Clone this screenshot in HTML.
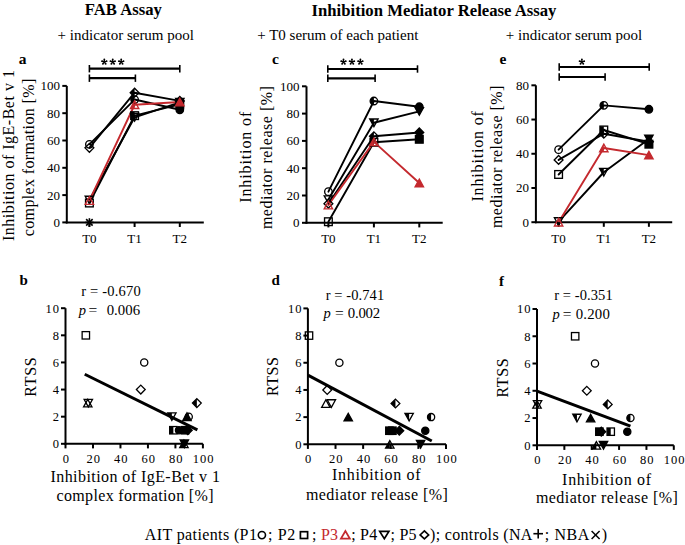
<!DOCTYPE html>
<html><head><meta charset="utf-8"><style>html,body{margin:0;padding:0;background:#fff;width:685px;height:545px;overflow:hidden}svg{display:block}</style></head>
<body>
<svg width="685" height="545" viewBox="0 0 685 545">
<style>text{font-family:'Liberation Serif', serif;}</style>
<defs><clipPath id="lh" clipPathUnits="objectBoundingBox"><rect x="0" y="0" width="0.5" height="1"/></clipPath></defs>
<rect width="685" height="545" fill="#fff"/>
<text x="123.40" y="15.00" font-size="16.7" text-anchor="middle" font-weight="bold" >FAB Assay</text>
<text x="434.00" y="16.00" font-size="16.7" text-anchor="middle" font-weight="bold" >Inhibition Mediator Release Assay</text>
<text x="125.80" y="40.00" font-size="15" text-anchor="middle" >+ indicator serum pool</text>
<text x="337.80" y="40.00" font-size="15" text-anchor="middle" >+ T0 serum of each patient</text>
<text x="574.00" y="40.00" font-size="15" text-anchor="middle" >+ indicator serum pool</text>
<line x1="66.80" y1="85.90" x2="66.80" y2="223.40" stroke="#000" stroke-width="2" stroke-linecap="butt"/>
<line x1="65.80" y1="222.40" x2="203.80" y2="222.40" stroke="#000" stroke-width="2" stroke-linecap="butt"/>
<line x1="62.30" y1="222.40" x2="66.80" y2="222.40" stroke="#000" stroke-width="2" stroke-linecap="butt"/>
<text x="59.90" y="226.80" font-size="13" text-anchor="end" >0</text>
<line x1="62.30" y1="195.10" x2="66.80" y2="195.10" stroke="#000" stroke-width="2" stroke-linecap="butt"/>
<text x="59.90" y="199.50" font-size="13" text-anchor="end" >20</text>
<line x1="62.30" y1="167.80" x2="66.80" y2="167.80" stroke="#000" stroke-width="2" stroke-linecap="butt"/>
<text x="59.90" y="172.20" font-size="13" text-anchor="end" >40</text>
<line x1="62.30" y1="140.50" x2="66.80" y2="140.50" stroke="#000" stroke-width="2" stroke-linecap="butt"/>
<text x="59.90" y="144.90" font-size="13" text-anchor="end" >60</text>
<line x1="62.30" y1="113.20" x2="66.80" y2="113.20" stroke="#000" stroke-width="2" stroke-linecap="butt"/>
<text x="59.90" y="117.60" font-size="13" text-anchor="end" >80</text>
<line x1="62.30" y1="85.90" x2="66.80" y2="85.90" stroke="#000" stroke-width="2" stroke-linecap="butt"/>
<text x="59.90" y="90.30" font-size="13" text-anchor="end" >100</text>
<line x1="89.40" y1="222.40" x2="89.40" y2="227.00" stroke="#000" stroke-width="2" stroke-linecap="butt"/>
<text x="89.40" y="243.40" font-size="13" text-anchor="middle" >T0</text>
<line x1="134.60" y1="222.40" x2="134.60" y2="227.00" stroke="#000" stroke-width="2" stroke-linecap="butt"/>
<text x="134.60" y="243.40" font-size="13" text-anchor="middle" >T1</text>
<line x1="179.80" y1="222.40" x2="179.80" y2="227.00" stroke="#000" stroke-width="2" stroke-linecap="butt"/>
<text x="179.80" y="243.40" font-size="13" text-anchor="middle" >T2</text>
<text x="18.80" y="63.80" font-size="15.5" text-anchor="start" font-weight="bold" >a</text>
<text x="13.80" y="155.60" font-size="16" text-anchor="middle" textLength="171" lengthAdjust="spacing" transform="rotate(-90 13.80 155.60)" >Inhibition of IgE-Bet v 1</text>
<text x="34.00" y="157.50" font-size="16" text-anchor="middle" textLength="157.5" lengthAdjust="spacing" transform="rotate(-90 34.00 157.50)" >complex formation [%]</text>
<line x1="89.40" y1="68.70" x2="179.80" y2="68.70" stroke="#000" stroke-width="2.2" stroke-linecap="butt"/>
<line x1="89.40" y1="65.00" x2="89.40" y2="72.40" stroke="#000" stroke-width="1.6" stroke-linecap="butt"/>
<line x1="179.80" y1="65.00" x2="179.80" y2="72.40" stroke="#000" stroke-width="1.6" stroke-linecap="butt"/>
<line x1="89.40" y1="78.20" x2="135.40" y2="78.20" stroke="#000" stroke-width="2.2" stroke-linecap="butt"/>
<line x1="89.40" y1="74.50" x2="89.40" y2="81.90" stroke="#000" stroke-width="1.6" stroke-linecap="butt"/>
<line x1="135.40" y1="74.50" x2="135.40" y2="81.90" stroke="#000" stroke-width="1.6" stroke-linecap="butt"/>
<path d="M104.65,61.90 L105.25,59.50 L103.35,59.50 L103.95,61.90Z M105.25,59.50 a0.95,0.95 0 1,0 -1.9,0 a0.95,0.95 0 1,0 1.9,0Z M104.41,62.23 L106.88,62.06 L106.29,60.25 L104.19,61.57Z M107.53,61.16 a0.95,0.95 0 1,0 -1.9,0 a0.95,0.95 0 1,0 1.9,0Z M104.02,62.11 L104.94,64.40 L106.48,63.28 L104.58,61.69Z M106.66,63.84 a0.95,0.95 0 1,0 -1.9,0 a0.95,0.95 0 1,0 1.9,0Z M104.02,61.69 L102.12,63.28 L103.66,64.40 L104.58,62.11Z M103.84,63.84 a0.95,0.95 0 1,0 -1.9,0 a0.95,0.95 0 1,0 1.9,0Z M104.41,61.57 L102.31,60.25 L101.72,62.06 L104.19,62.23Z M102.97,61.16 a0.95,0.95 0 1,0 -1.9,0 a0.95,0.95 0 1,0 1.9,0Z" fill="#000"/>
<path d="M113.10,61.90 L113.70,59.50 L111.80,59.50 L112.40,61.90Z M113.70,59.50 a0.95,0.95 0 1,0 -1.9,0 a0.95,0.95 0 1,0 1.9,0Z M112.86,62.23 L115.33,62.06 L114.74,60.25 L112.64,61.57Z M115.98,61.16 a0.95,0.95 0 1,0 -1.9,0 a0.95,0.95 0 1,0 1.9,0Z M112.47,62.11 L113.39,64.40 L114.93,63.28 L113.03,61.69Z M115.11,63.84 a0.95,0.95 0 1,0 -1.9,0 a0.95,0.95 0 1,0 1.9,0Z M112.47,61.69 L110.57,63.28 L112.11,64.40 L113.03,62.11Z M112.29,63.84 a0.95,0.95 0 1,0 -1.9,0 a0.95,0.95 0 1,0 1.9,0Z M112.86,61.57 L110.76,60.25 L110.17,62.06 L112.64,62.23Z M111.42,61.16 a0.95,0.95 0 1,0 -1.9,0 a0.95,0.95 0 1,0 1.9,0Z" fill="#000"/>
<path d="M121.55,61.90 L122.15,59.50 L120.25,59.50 L120.85,61.90Z M122.15,59.50 a0.95,0.95 0 1,0 -1.9,0 a0.95,0.95 0 1,0 1.9,0Z M121.31,62.23 L123.78,62.06 L123.19,60.25 L121.09,61.57Z M124.43,61.16 a0.95,0.95 0 1,0 -1.9,0 a0.95,0.95 0 1,0 1.9,0Z M120.92,62.11 L121.84,64.40 L123.38,63.28 L121.48,61.69Z M123.56,63.84 a0.95,0.95 0 1,0 -1.9,0 a0.95,0.95 0 1,0 1.9,0Z M120.92,61.69 L119.02,63.28 L120.56,64.40 L121.48,62.11Z M120.74,63.84 a0.95,0.95 0 1,0 -1.9,0 a0.95,0.95 0 1,0 1.9,0Z M121.31,61.57 L119.21,60.25 L118.62,62.06 L121.09,62.23Z M119.87,61.16 a0.95,0.95 0 1,0 -1.9,0 a0.95,0.95 0 1,0 1.9,0Z" fill="#000"/>
<polyline points="89.40,144.32 134.60,99.55 179.80,109.79" fill="none" stroke="#000" stroke-width="1.9" stroke-linejoin="round" stroke-linecap="round"/>
<polyline points="89.40,203.02 134.60,115.66 179.80,104.33" fill="none" stroke="#000" stroke-width="1.9" stroke-linejoin="round" stroke-linecap="round"/>
<polyline points="89.40,200.01 134.60,117.30 179.80,102.28" fill="none" stroke="#000" stroke-width="1.9" stroke-linejoin="round" stroke-linecap="round"/>
<polyline points="89.40,147.87 134.60,92.72 179.80,100.92" fill="none" stroke="#000" stroke-width="1.9" stroke-linejoin="round" stroke-linecap="round"/>
<polyline points="89.40,200.56 134.60,104.74 179.80,102.01" fill="none" stroke="#c4292e" stroke-width="1.9" stroke-linejoin="round" stroke-linecap="round"/>
<circle cx="89.40" cy="144.32" r="3.75" fill="none" stroke="#000" stroke-width="1.35" stroke-linejoin="miter"/>
<circle cx="134.60" cy="99.55" r="3.75" fill="none" stroke="#000" stroke-width="1.35" stroke-linejoin="miter"/>
<circle cx="134.60" cy="99.55" r="3.75" fill="#000" stroke="none" clip-path="url(#lh)"/>
<circle cx="179.80" cy="109.79" r="3.75" fill="#000" stroke="#000" stroke-width="1.35" stroke-linejoin="miter"/>
<rect x="85.55" y="199.17" width="7.70" height="7.70" fill="none" stroke="#000" stroke-width="1.35" stroke-linejoin="miter"/>
<rect x="130.75" y="111.81" width="7.70" height="7.70" fill="none" stroke="#000" stroke-width="1.35" stroke-linejoin="miter"/>
<rect x="130.75" y="111.81" width="7.70" height="7.70" fill="#000" stroke="none" clip-path="url(#lh)"/>
<rect x="175.95" y="100.48" width="7.70" height="7.70" fill="#000" stroke="#000" stroke-width="1.35" stroke-linejoin="miter"/>
<polygon points="89.40,203.81 93.60,196.21 85.20,196.21" fill="none" stroke="#000" stroke-width="1.35" stroke-linejoin="miter"/>
<polygon points="134.60,121.09 138.80,113.50 130.40,113.50" fill="none" stroke="#000" stroke-width="1.35" stroke-linejoin="miter"/>
<polygon points="134.60,121.09 138.80,113.50 130.40,113.50" fill="#000" stroke="none" clip-path="url(#lh)"/>
<polygon points="179.80,106.08 184.00,98.48 175.60,98.48" fill="#000" stroke="#000" stroke-width="1.35" stroke-linejoin="miter"/>
<polygon points="89.40,143.47 93.80,147.87 89.40,152.27 85.00,147.87" fill="none" stroke="#000" stroke-width="1.35" stroke-linejoin="miter"/>
<polygon points="134.60,88.32 139.00,92.72 134.60,97.12 130.20,92.72" fill="none" stroke="#000" stroke-width="1.35" stroke-linejoin="miter"/>
<polygon points="134.60,88.32 139.00,92.72 134.60,97.12 130.20,92.72" fill="#000" stroke="none" clip-path="url(#lh)"/>
<polygon points="179.80,96.52 184.20,100.92 179.80,105.32 175.40,100.92" fill="#000" stroke="#000" stroke-width="1.35" stroke-linejoin="miter"/>
<polygon points="89.40,196.76 93.60,204.36 85.20,204.36" fill="none" stroke="#c4292e" stroke-width="1.35" stroke-linejoin="miter"/>
<polygon points="134.60,100.94 138.80,108.54 130.40,108.54" fill="none" stroke="#c4292e" stroke-width="1.35" stroke-linejoin="miter"/>
<polygon points="134.60,100.94 138.80,108.54 130.40,108.54" fill="#c4292e" stroke="none" clip-path="url(#lh)"/>
<polygon points="179.80,98.21 184.00,105.81 175.60,105.81" fill="#c4292e" stroke="#c4292e" stroke-width="1.35" stroke-linejoin="miter"/>
<line x1="85.20" y1="222.40" x2="93.60" y2="222.40" stroke="#000" stroke-width="1.6" stroke-linecap="butt"/>
<line x1="89.40" y1="218.20" x2="89.40" y2="226.60" stroke="#000" stroke-width="1.6" stroke-linecap="butt"/>
<line x1="86.15" y1="219.15" x2="92.65" y2="225.65" stroke="#000" stroke-width="1.6" stroke-linecap="butt"/>
<line x1="86.15" y1="225.65" x2="92.65" y2="219.15" stroke="#000" stroke-width="1.6" stroke-linecap="butt"/>
<line x1="306.50" y1="86.30" x2="306.50" y2="223.80" stroke="#000" stroke-width="2" stroke-linecap="butt"/>
<line x1="305.50" y1="222.80" x2="442.70" y2="222.80" stroke="#000" stroke-width="2" stroke-linecap="butt"/>
<line x1="302.00" y1="222.80" x2="306.50" y2="222.80" stroke="#000" stroke-width="2" stroke-linecap="butt"/>
<text x="299.60" y="227.20" font-size="13" text-anchor="end" >0</text>
<line x1="302.00" y1="195.50" x2="306.50" y2="195.50" stroke="#000" stroke-width="2" stroke-linecap="butt"/>
<text x="299.60" y="199.90" font-size="13" text-anchor="end" >20</text>
<line x1="302.00" y1="168.20" x2="306.50" y2="168.20" stroke="#000" stroke-width="2" stroke-linecap="butt"/>
<text x="299.60" y="172.60" font-size="13" text-anchor="end" >40</text>
<line x1="302.00" y1="140.90" x2="306.50" y2="140.90" stroke="#000" stroke-width="2" stroke-linecap="butt"/>
<text x="299.60" y="145.30" font-size="13" text-anchor="end" >60</text>
<line x1="302.00" y1="113.60" x2="306.50" y2="113.60" stroke="#000" stroke-width="2" stroke-linecap="butt"/>
<text x="299.60" y="118.00" font-size="13" text-anchor="end" >80</text>
<line x1="302.00" y1="86.30" x2="306.50" y2="86.30" stroke="#000" stroke-width="2" stroke-linecap="butt"/>
<text x="299.60" y="90.70" font-size="13" text-anchor="end" >100</text>
<line x1="328.40" y1="222.80" x2="328.40" y2="227.40" stroke="#000" stroke-width="2" stroke-linecap="butt"/>
<text x="328.40" y="243.40" font-size="13" text-anchor="middle" >T0</text>
<line x1="373.90" y1="222.80" x2="373.90" y2="227.40" stroke="#000" stroke-width="2" stroke-linecap="butt"/>
<text x="373.90" y="243.40" font-size="13" text-anchor="middle" >T1</text>
<line x1="419.30" y1="222.80" x2="419.30" y2="227.40" stroke="#000" stroke-width="2" stroke-linecap="butt"/>
<text x="419.30" y="243.40" font-size="13" text-anchor="middle" >T2</text>
<text x="272.00" y="63.70" font-size="15.5" text-anchor="start" font-weight="bold" >c</text>
<text x="251.30" y="157.20" font-size="16" text-anchor="middle" textLength="91" lengthAdjust="spacing" transform="rotate(-90 251.30 157.20)" >Inhibition of</text>
<text x="271.60" y="157.60" font-size="16" text-anchor="middle" textLength="143" lengthAdjust="spacing" transform="rotate(-90 271.60 157.60)" >mediator release [%]</text>
<line x1="327.80" y1="69.00" x2="417.50" y2="69.00" stroke="#000" stroke-width="2.2" stroke-linecap="butt"/>
<line x1="327.80" y1="65.30" x2="327.80" y2="72.70" stroke="#000" stroke-width="1.6" stroke-linecap="butt"/>
<line x1="417.50" y1="65.30" x2="417.50" y2="72.70" stroke="#000" stroke-width="1.6" stroke-linecap="butt"/>
<line x1="327.80" y1="78.30" x2="375.10" y2="78.30" stroke="#000" stroke-width="2.2" stroke-linecap="butt"/>
<line x1="327.80" y1="74.60" x2="327.80" y2="82.00" stroke="#000" stroke-width="1.6" stroke-linecap="butt"/>
<line x1="375.10" y1="74.60" x2="375.10" y2="82.00" stroke="#000" stroke-width="1.6" stroke-linecap="butt"/>
<path d="M343.85,61.90 L344.45,59.50 L342.55,59.50 L343.15,61.90Z M344.45,59.50 a0.95,0.95 0 1,0 -1.9,0 a0.95,0.95 0 1,0 1.9,0Z M343.61,62.23 L346.08,62.06 L345.49,60.25 L343.39,61.57Z M346.73,61.16 a0.95,0.95 0 1,0 -1.9,0 a0.95,0.95 0 1,0 1.9,0Z M343.22,62.11 L344.14,64.40 L345.68,63.28 L343.78,61.69Z M345.86,63.84 a0.95,0.95 0 1,0 -1.9,0 a0.95,0.95 0 1,0 1.9,0Z M343.22,61.69 L341.32,63.28 L342.86,64.40 L343.78,62.11Z M343.04,63.84 a0.95,0.95 0 1,0 -1.9,0 a0.95,0.95 0 1,0 1.9,0Z M343.61,61.57 L341.51,60.25 L340.92,62.06 L343.39,62.23Z M342.17,61.16 a0.95,0.95 0 1,0 -1.9,0 a0.95,0.95 0 1,0 1.9,0Z" fill="#000"/>
<path d="M352.30,61.90 L352.90,59.50 L351.00,59.50 L351.60,61.90Z M352.90,59.50 a0.95,0.95 0 1,0 -1.9,0 a0.95,0.95 0 1,0 1.9,0Z M352.06,62.23 L354.53,62.06 L353.94,60.25 L351.84,61.57Z M355.18,61.16 a0.95,0.95 0 1,0 -1.9,0 a0.95,0.95 0 1,0 1.9,0Z M351.67,62.11 L352.59,64.40 L354.13,63.28 L352.23,61.69Z M354.31,63.84 a0.95,0.95 0 1,0 -1.9,0 a0.95,0.95 0 1,0 1.9,0Z M351.67,61.69 L349.77,63.28 L351.31,64.40 L352.23,62.11Z M351.49,63.84 a0.95,0.95 0 1,0 -1.9,0 a0.95,0.95 0 1,0 1.9,0Z M352.06,61.57 L349.96,60.25 L349.37,62.06 L351.84,62.23Z M350.62,61.16 a0.95,0.95 0 1,0 -1.9,0 a0.95,0.95 0 1,0 1.9,0Z" fill="#000"/>
<path d="M360.75,61.90 L361.35,59.50 L359.45,59.50 L360.05,61.90Z M361.35,59.50 a0.95,0.95 0 1,0 -1.9,0 a0.95,0.95 0 1,0 1.9,0Z M360.51,62.23 L362.98,62.06 L362.39,60.25 L360.29,61.57Z M363.63,61.16 a0.95,0.95 0 1,0 -1.9,0 a0.95,0.95 0 1,0 1.9,0Z M360.12,62.11 L361.04,64.40 L362.58,63.28 L360.68,61.69Z M362.76,63.84 a0.95,0.95 0 1,0 -1.9,0 a0.95,0.95 0 1,0 1.9,0Z M360.12,61.69 L358.22,63.28 L359.76,64.40 L360.68,62.11Z M359.94,63.84 a0.95,0.95 0 1,0 -1.9,0 a0.95,0.95 0 1,0 1.9,0Z M360.51,61.57 L358.41,60.25 L357.82,62.06 L360.29,62.23Z M359.07,61.16 a0.95,0.95 0 1,0 -1.9,0 a0.95,0.95 0 1,0 1.9,0Z" fill="#000"/>
<polyline points="328.40,191.68 373.90,101.04 419.30,106.78" fill="none" stroke="#000" stroke-width="1.9" stroke-linejoin="round" stroke-linecap="round"/>
<polyline points="328.40,221.71 373.90,142.27 419.30,139.26" fill="none" stroke="#000" stroke-width="1.9" stroke-linejoin="round" stroke-linecap="round"/>
<polyline points="328.40,199.60 373.90,122.75 419.30,111.42" fill="none" stroke="#000" stroke-width="1.9" stroke-linejoin="round" stroke-linecap="round"/>
<polyline points="328.40,203.69 373.90,136.26 419.30,132.44" fill="none" stroke="#000" stroke-width="1.9" stroke-linejoin="round" stroke-linecap="round"/>
<polyline points="328.40,205.06 373.90,141.86 419.30,182.94" fill="none" stroke="#c4292e" stroke-width="1.9" stroke-linejoin="round" stroke-linecap="round"/>
<circle cx="328.40" cy="191.68" r="3.75" fill="none" stroke="#000" stroke-width="1.35" stroke-linejoin="miter"/>
<circle cx="373.90" cy="101.04" r="3.75" fill="none" stroke="#000" stroke-width="1.35" stroke-linejoin="miter"/>
<circle cx="373.90" cy="101.04" r="3.75" fill="#000" stroke="none" clip-path="url(#lh)"/>
<circle cx="419.30" cy="106.78" r="3.75" fill="#000" stroke="#000" stroke-width="1.35" stroke-linejoin="miter"/>
<rect x="324.55" y="217.86" width="7.70" height="7.70" fill="none" stroke="#000" stroke-width="1.35" stroke-linejoin="miter"/>
<rect x="370.05" y="138.42" width="7.70" height="7.70" fill="none" stroke="#000" stroke-width="1.35" stroke-linejoin="miter"/>
<rect x="370.05" y="138.42" width="7.70" height="7.70" fill="#000" stroke="none" clip-path="url(#lh)"/>
<rect x="415.45" y="135.41" width="7.70" height="7.70" fill="#000" stroke="#000" stroke-width="1.35" stroke-linejoin="miter"/>
<polygon points="328.40,203.40 332.60,195.80 324.20,195.80" fill="none" stroke="#000" stroke-width="1.35" stroke-linejoin="miter"/>
<polygon points="373.90,126.55 378.10,118.95 369.70,118.95" fill="none" stroke="#000" stroke-width="1.35" stroke-linejoin="miter"/>
<polygon points="373.90,126.55 378.10,118.95 369.70,118.95" fill="#000" stroke="none" clip-path="url(#lh)"/>
<polygon points="419.30,115.22 423.50,107.62 415.10,107.62" fill="#000" stroke="#000" stroke-width="1.35" stroke-linejoin="miter"/>
<polygon points="328.40,199.29 332.80,203.69 328.40,208.09 324.00,203.69" fill="none" stroke="#000" stroke-width="1.35" stroke-linejoin="miter"/>
<polygon points="373.90,131.86 378.30,136.26 373.90,140.66 369.50,136.26" fill="none" stroke="#000" stroke-width="1.35" stroke-linejoin="miter"/>
<polygon points="373.90,131.86 378.30,136.26 373.90,140.66 369.50,136.26" fill="#000" stroke="none" clip-path="url(#lh)"/>
<polygon points="419.30,128.04 423.70,132.44 419.30,136.84 414.90,132.44" fill="#000" stroke="#000" stroke-width="1.35" stroke-linejoin="miter"/>
<polygon points="328.40,201.25 332.60,208.86 324.20,208.86" fill="none" stroke="#c4292e" stroke-width="1.35" stroke-linejoin="miter"/>
<polygon points="373.90,138.06 378.10,145.66 369.70,145.66" fill="none" stroke="#c4292e" stroke-width="1.35" stroke-linejoin="miter"/>
<polygon points="373.90,138.06 378.10,145.66 369.70,145.66" fill="#c4292e" stroke="none" clip-path="url(#lh)"/>
<polygon points="419.30,179.14 423.50,186.74 415.10,186.74" fill="#c4292e" stroke="#c4292e" stroke-width="1.35" stroke-linejoin="miter"/>
<line x1="535.90" y1="85.32" x2="535.90" y2="223.20" stroke="#000" stroke-width="2" stroke-linecap="butt"/>
<line x1="534.90" y1="222.20" x2="672.20" y2="222.20" stroke="#000" stroke-width="2" stroke-linecap="butt"/>
<line x1="531.40" y1="222.20" x2="535.90" y2="222.20" stroke="#000" stroke-width="2" stroke-linecap="butt"/>
<text x="529.00" y="226.60" font-size="13" text-anchor="end" >0</text>
<line x1="531.40" y1="187.98" x2="535.90" y2="187.98" stroke="#000" stroke-width="2" stroke-linecap="butt"/>
<text x="529.00" y="192.38" font-size="13" text-anchor="end" >20</text>
<line x1="531.40" y1="153.76" x2="535.90" y2="153.76" stroke="#000" stroke-width="2" stroke-linecap="butt"/>
<text x="529.00" y="158.16" font-size="13" text-anchor="end" >40</text>
<line x1="531.40" y1="119.54" x2="535.90" y2="119.54" stroke="#000" stroke-width="2" stroke-linecap="butt"/>
<text x="529.00" y="123.94" font-size="13" text-anchor="end" >60</text>
<line x1="531.40" y1="85.32" x2="535.90" y2="85.32" stroke="#000" stroke-width="2" stroke-linecap="butt"/>
<text x="529.00" y="89.72" font-size="13" text-anchor="end" >80</text>
<line x1="558.60" y1="222.20" x2="558.60" y2="226.80" stroke="#000" stroke-width="2" stroke-linecap="butt"/>
<text x="558.60" y="243.40" font-size="13" text-anchor="middle" >T0</text>
<line x1="603.80" y1="222.20" x2="603.80" y2="226.80" stroke="#000" stroke-width="2" stroke-linecap="butt"/>
<text x="603.80" y="243.40" font-size="13" text-anchor="middle" >T1</text>
<line x1="648.90" y1="222.20" x2="648.90" y2="226.80" stroke="#000" stroke-width="2" stroke-linecap="butt"/>
<text x="648.90" y="243.40" font-size="13" text-anchor="middle" >T2</text>
<text x="499.50" y="63.70" font-size="15.5" text-anchor="start" font-weight="bold" >e</text>
<text x="482.60" y="156.30" font-size="16" text-anchor="middle" textLength="90.5" lengthAdjust="spacing" transform="rotate(-90 482.60 156.30)" >Inhibition of</text>
<text x="502.50" y="156.80" font-size="16" text-anchor="middle" textLength="142.5" lengthAdjust="spacing" transform="rotate(-90 502.50 156.80)" >mediator release [%]</text>
<line x1="559.20" y1="67.00" x2="649.20" y2="67.00" stroke="#000" stroke-width="2.2" stroke-linecap="butt"/>
<line x1="559.20" y1="63.30" x2="559.20" y2="70.70" stroke="#000" stroke-width="1.6" stroke-linecap="butt"/>
<line x1="649.20" y1="63.30" x2="649.20" y2="70.70" stroke="#000" stroke-width="1.6" stroke-linecap="butt"/>
<line x1="559.20" y1="77.00" x2="605.10" y2="77.00" stroke="#000" stroke-width="2.2" stroke-linecap="butt"/>
<line x1="559.20" y1="73.30" x2="559.20" y2="80.70" stroke="#000" stroke-width="1.6" stroke-linecap="butt"/>
<line x1="605.10" y1="73.30" x2="605.10" y2="80.70" stroke="#000" stroke-width="1.6" stroke-linecap="butt"/>
<path d="M582.25,61.90 L582.85,59.50 L580.95,59.50 L581.55,61.90Z M582.85,59.50 a0.95,0.95 0 1,0 -1.9,0 a0.95,0.95 0 1,0 1.9,0Z M582.01,62.23 L584.48,62.06 L583.89,60.25 L581.79,61.57Z M585.13,61.16 a0.95,0.95 0 1,0 -1.9,0 a0.95,0.95 0 1,0 1.9,0Z M581.62,62.11 L582.54,64.40 L584.08,63.28 L582.18,61.69Z M584.26,63.84 a0.95,0.95 0 1,0 -1.9,0 a0.95,0.95 0 1,0 1.9,0Z M581.62,61.69 L579.72,63.28 L581.26,64.40 L582.18,62.11Z M581.44,63.84 a0.95,0.95 0 1,0 -1.9,0 a0.95,0.95 0 1,0 1.9,0Z M582.01,61.57 L579.91,60.25 L579.32,62.06 L581.79,62.23Z M580.57,61.16 a0.95,0.95 0 1,0 -1.9,0 a0.95,0.95 0 1,0 1.9,0Z" fill="#000"/>
<polyline points="558.60,149.65 603.80,105.34 648.90,109.27" fill="none" stroke="#000" stroke-width="1.9" stroke-linejoin="round" stroke-linecap="round"/>
<polyline points="558.60,174.46 603.80,129.98 648.90,144.18" fill="none" stroke="#000" stroke-width="1.9" stroke-linejoin="round" stroke-linecap="round"/>
<polyline points="558.60,221.52 603.80,172.24 648.90,139.05" fill="none" stroke="#000" stroke-width="1.9" stroke-linejoin="round" stroke-linecap="round"/>
<polyline points="558.60,159.92 603.80,133.74 648.90,141.78" fill="none" stroke="#000" stroke-width="1.9" stroke-linejoin="round" stroke-linecap="round"/>
<polyline points="558.60,222.20 603.80,147.94 648.90,155.13" fill="none" stroke="#c4292e" stroke-width="1.9" stroke-linejoin="round" stroke-linecap="round"/>
<circle cx="558.60" cy="149.65" r="3.75" fill="none" stroke="#000" stroke-width="1.35" stroke-linejoin="miter"/>
<circle cx="603.80" cy="105.34" r="3.75" fill="none" stroke="#000" stroke-width="1.35" stroke-linejoin="miter"/>
<circle cx="603.80" cy="105.34" r="3.75" fill="#000" stroke="none" clip-path="url(#lh)"/>
<circle cx="648.90" cy="109.27" r="3.75" fill="#000" stroke="#000" stroke-width="1.35" stroke-linejoin="miter"/>
<rect x="554.75" y="170.61" width="7.70" height="7.70" fill="none" stroke="#000" stroke-width="1.35" stroke-linejoin="miter"/>
<rect x="599.95" y="126.13" width="7.70" height="7.70" fill="none" stroke="#000" stroke-width="1.35" stroke-linejoin="miter"/>
<rect x="599.95" y="126.13" width="7.70" height="7.70" fill="#000" stroke="none" clip-path="url(#lh)"/>
<rect x="645.05" y="140.33" width="7.70" height="7.70" fill="#000" stroke="#000" stroke-width="1.35" stroke-linejoin="miter"/>
<polygon points="558.60,225.32 562.80,217.72 554.40,217.72" fill="none" stroke="#000" stroke-width="1.35" stroke-linejoin="miter"/>
<polygon points="603.80,176.04 608.00,168.44 599.60,168.44" fill="none" stroke="#000" stroke-width="1.35" stroke-linejoin="miter"/>
<polygon points="603.80,176.04 608.00,168.44 599.60,168.44" fill="#000" stroke="none" clip-path="url(#lh)"/>
<polygon points="648.90,142.85 653.10,135.25 644.70,135.25" fill="#000" stroke="#000" stroke-width="1.35" stroke-linejoin="miter"/>
<polygon points="558.60,155.52 563.00,159.92 558.60,164.32 554.20,159.92" fill="none" stroke="#000" stroke-width="1.35" stroke-linejoin="miter"/>
<polygon points="603.80,129.34 608.20,133.74 603.80,138.14 599.40,133.74" fill="none" stroke="#000" stroke-width="1.35" stroke-linejoin="miter"/>
<polygon points="603.80,129.34 608.20,133.74 603.80,138.14 599.40,133.74" fill="#000" stroke="none" clip-path="url(#lh)"/>
<polygon points="648.90,137.38 653.30,141.78 648.90,146.18 644.50,141.78" fill="#000" stroke="#000" stroke-width="1.35" stroke-linejoin="miter"/>
<polygon points="558.60,218.40 562.80,226.00 554.40,226.00" fill="none" stroke="#c4292e" stroke-width="1.35" stroke-linejoin="miter"/>
<polygon points="603.80,144.14 608.00,151.74 599.60,151.74" fill="none" stroke="#c4292e" stroke-width="1.35" stroke-linejoin="miter"/>
<polygon points="603.80,144.14 608.00,151.74 599.60,151.74" fill="#c4292e" stroke="none" clip-path="url(#lh)"/>
<polygon points="648.90,151.33 653.10,158.93 644.70,158.93" fill="#c4292e" stroke="#c4292e" stroke-width="1.35" stroke-linejoin="miter"/>
<circle cx="558.5" cy="223.6" r="1.6" fill="#000"/>
<line x1="65.50" y1="308.20" x2="65.50" y2="444.80" stroke="#000" stroke-width="2" stroke-linecap="butt"/>
<line x1="64.50" y1="443.80" x2="202.90" y2="443.80" stroke="#000" stroke-width="2" stroke-linecap="butt"/>
<line x1="61.00" y1="443.80" x2="65.50" y2="443.80" stroke="#000" stroke-width="2" stroke-linecap="butt"/>
<text x="60.10" y="448.10" font-size="12.5" text-anchor="end" letter-spacing="1.0">0</text>
<line x1="61.00" y1="416.68" x2="65.50" y2="416.68" stroke="#000" stroke-width="2" stroke-linecap="butt"/>
<text x="60.10" y="420.98" font-size="12.5" text-anchor="end" letter-spacing="1.0">2</text>
<line x1="61.00" y1="389.56" x2="65.50" y2="389.56" stroke="#000" stroke-width="2" stroke-linecap="butt"/>
<text x="60.10" y="393.86" font-size="12.5" text-anchor="end" letter-spacing="1.0">4</text>
<line x1="61.00" y1="362.44" x2="65.50" y2="362.44" stroke="#000" stroke-width="2" stroke-linecap="butt"/>
<text x="60.10" y="366.74" font-size="12.5" text-anchor="end" letter-spacing="1.0">6</text>
<line x1="61.00" y1="335.32" x2="65.50" y2="335.32" stroke="#000" stroke-width="2" stroke-linecap="butt"/>
<text x="60.10" y="339.62" font-size="12.5" text-anchor="end" letter-spacing="1.0">8</text>
<line x1="61.00" y1="308.20" x2="65.50" y2="308.20" stroke="#000" stroke-width="2" stroke-linecap="butt"/>
<text x="60.10" y="312.50" font-size="12.5" text-anchor="end" letter-spacing="1.0">10</text>
<line x1="65.50" y1="443.80" x2="65.50" y2="448.40" stroke="#000" stroke-width="2" stroke-linecap="butt"/>
<text x="66.30" y="462.80" font-size="12.5" text-anchor="middle" letter-spacing="1.0">0</text>
<line x1="92.98" y1="443.80" x2="92.98" y2="448.40" stroke="#000" stroke-width="2" stroke-linecap="butt"/>
<text x="93.78" y="462.80" font-size="12.5" text-anchor="middle" letter-spacing="1.0">20</text>
<line x1="120.46" y1="443.80" x2="120.46" y2="448.40" stroke="#000" stroke-width="2" stroke-linecap="butt"/>
<text x="121.26" y="462.80" font-size="12.5" text-anchor="middle" letter-spacing="1.0">40</text>
<line x1="147.94" y1="443.80" x2="147.94" y2="448.40" stroke="#000" stroke-width="2" stroke-linecap="butt"/>
<text x="148.74" y="462.80" font-size="12.5" text-anchor="middle" letter-spacing="1.0">60</text>
<line x1="175.42" y1="443.80" x2="175.42" y2="448.40" stroke="#000" stroke-width="2" stroke-linecap="butt"/>
<text x="176.22" y="462.80" font-size="12.5" text-anchor="middle" letter-spacing="1.0">80</text>
<line x1="202.90" y1="443.80" x2="202.90" y2="448.40" stroke="#000" stroke-width="2" stroke-linecap="butt"/>
<text x="203.70" y="462.80" font-size="12.5" text-anchor="middle" letter-spacing="1.0">100</text>
<text x="19.50" y="285.00" font-size="15" text-anchor="start" font-weight="bold" >b</text>
<text x="81.20" y="295.80" font-size="14.5" text-anchor="start" textLength="59.5" lengthAdjust="spacing" >r = -0.670</text>
<text x="78.80" y="315.00" font-size="14.5" text-anchor="start" font-style="italic" >p</text>
<text x="88.50" y="315.00" font-size="15.5" text-anchor="start" >=</text>
<text x="106.70" y="315.00" font-size="14.8" text-anchor="start" textLength="33.39999999999999" lengthAdjust="spacing" >0.006</text>
<text x="36.00" y="377.00" font-size="16" text-anchor="middle" textLength="39.5" lengthAdjust="spacing" transform="rotate(-90 36.00 377.00)" >RTSS</text>
<text x="135.20" y="481.50" font-size="16" text-anchor="middle" textLength="169.5" lengthAdjust="spacing" >Inhibition of IgE-Bet v 1</text>
<text x="135.00" y="501.40" font-size="16" text-anchor="middle" textLength="157" lengthAdjust="spacing" >complex formation [%]</text>
<line x1="84.74" y1="374.24" x2="197.40" y2="429.83" stroke="#000" stroke-width="3" stroke-linecap="butt"/>
<polygon points="88.31,406.92 92.51,399.32 84.11,399.32" fill="none" stroke="#000" stroke-width="1.3" stroke-linejoin="miter"/>
<polygon points="171.85,420.48 176.05,412.88 167.65,412.88" fill="none" stroke="#000" stroke-width="1.3" stroke-linejoin="miter"/>
<polygon points="171.85,420.48 176.05,412.88 167.65,412.88" fill="#000" stroke="none" clip-path="url(#lh)"/>
<polygon points="184.35,447.60 188.55,440.00 180.15,440.00" fill="#000" stroke="#000" stroke-width="1.3" stroke-linejoin="miter"/>
<polygon points="87.76,399.32 91.96,406.92 83.56,406.92" fill="none" stroke="#000" stroke-width="1.3" stroke-linejoin="miter"/>
<polygon points="183.94,440.00 188.14,447.60 179.74,447.60" fill="none" stroke="#000" stroke-width="1.3" stroke-linejoin="miter"/>
<polygon points="183.94,440.00 188.14,447.60 179.74,447.60" fill="#000" stroke="none" clip-path="url(#lh)"/>
<polygon points="186.96,412.88 191.16,420.48 182.76,420.48" fill="#000" stroke="#000" stroke-width="1.3" stroke-linejoin="miter"/>
<rect x="82.14" y="331.62" width="7.40" height="7.40" fill="none" stroke="#000" stroke-width="1.3" stroke-linejoin="miter"/>
<rect x="169.66" y="426.54" width="7.40" height="7.40" fill="none" stroke="#000" stroke-width="1.3" stroke-linejoin="miter"/>
<rect x="169.66" y="426.54" width="7.40" height="7.40" fill="#000" stroke="none" clip-path="url(#lh)"/>
<rect x="181.34" y="426.54" width="7.40" height="7.40" fill="#000" stroke="#000" stroke-width="1.3" stroke-linejoin="miter"/>
<polygon points="140.80,385.16 145.20,389.56 140.80,393.96 136.40,389.56" fill="none" stroke="#000" stroke-width="1.3" stroke-linejoin="miter"/>
<polygon points="196.85,398.72 201.25,403.12 196.85,407.52 192.45,403.12" fill="none" stroke="#000" stroke-width="1.3" stroke-linejoin="miter"/>
<polygon points="196.85,398.72 201.25,403.12 196.85,407.52 192.45,403.12" fill="#000" stroke="none" clip-path="url(#lh)"/>
<polygon points="187.79,425.84 192.19,430.24 187.79,434.64 183.39,430.24" fill="#000" stroke="#000" stroke-width="1.3" stroke-linejoin="miter"/>
<circle cx="144.23" cy="362.44" r="3.6" fill="none" stroke="#000" stroke-width="1.3" stroke-linejoin="miter"/>
<circle cx="188.75" cy="416.68" r="3.6" fill="none" stroke="#000" stroke-width="1.3" stroke-linejoin="miter"/>
<circle cx="188.75" cy="416.68" r="3.6" fill="#000" stroke="none" clip-path="url(#lh)"/>
<circle cx="178.99" cy="430.24" r="3.6" fill="#000" stroke="#000" stroke-width="1.3" stroke-linejoin="miter"/>
<line x1="307.90" y1="308.40" x2="307.90" y2="445.30" stroke="#000" stroke-width="2" stroke-linecap="butt"/>
<line x1="306.90" y1="444.30" x2="446.00" y2="444.30" stroke="#000" stroke-width="2" stroke-linecap="butt"/>
<line x1="303.40" y1="444.30" x2="307.90" y2="444.30" stroke="#000" stroke-width="2" stroke-linecap="butt"/>
<text x="302.50" y="448.60" font-size="12.5" text-anchor="end" letter-spacing="1.0">0</text>
<line x1="303.40" y1="417.12" x2="307.90" y2="417.12" stroke="#000" stroke-width="2" stroke-linecap="butt"/>
<text x="302.50" y="421.42" font-size="12.5" text-anchor="end" letter-spacing="1.0">2</text>
<line x1="303.40" y1="389.94" x2="307.90" y2="389.94" stroke="#000" stroke-width="2" stroke-linecap="butt"/>
<text x="302.50" y="394.24" font-size="12.5" text-anchor="end" letter-spacing="1.0">4</text>
<line x1="303.40" y1="362.76" x2="307.90" y2="362.76" stroke="#000" stroke-width="2" stroke-linecap="butt"/>
<text x="302.50" y="367.06" font-size="12.5" text-anchor="end" letter-spacing="1.0">6</text>
<line x1="303.40" y1="335.58" x2="307.90" y2="335.58" stroke="#000" stroke-width="2" stroke-linecap="butt"/>
<text x="302.50" y="339.88" font-size="12.5" text-anchor="end" letter-spacing="1.0">8</text>
<line x1="303.40" y1="308.40" x2="307.90" y2="308.40" stroke="#000" stroke-width="2" stroke-linecap="butt"/>
<text x="302.50" y="312.70" font-size="12.5" text-anchor="end" letter-spacing="1.0">10</text>
<line x1="307.90" y1="444.30" x2="307.90" y2="448.90" stroke="#000" stroke-width="2" stroke-linecap="butt"/>
<text x="308.70" y="463.30" font-size="12.5" text-anchor="middle" letter-spacing="1.0">0</text>
<line x1="335.52" y1="444.30" x2="335.52" y2="448.90" stroke="#000" stroke-width="2" stroke-linecap="butt"/>
<text x="336.32" y="463.30" font-size="12.5" text-anchor="middle" letter-spacing="1.0">20</text>
<line x1="363.14" y1="444.30" x2="363.14" y2="448.90" stroke="#000" stroke-width="2" stroke-linecap="butt"/>
<text x="363.94" y="463.30" font-size="12.5" text-anchor="middle" letter-spacing="1.0">40</text>
<line x1="390.76" y1="444.30" x2="390.76" y2="448.90" stroke="#000" stroke-width="2" stroke-linecap="butt"/>
<text x="391.56" y="463.30" font-size="12.5" text-anchor="middle" letter-spacing="1.0">60</text>
<line x1="418.38" y1="444.30" x2="418.38" y2="448.90" stroke="#000" stroke-width="2" stroke-linecap="butt"/>
<text x="419.18" y="463.30" font-size="12.5" text-anchor="middle" letter-spacing="1.0">80</text>
<line x1="446.00" y1="444.30" x2="446.00" y2="448.90" stroke="#000" stroke-width="2" stroke-linecap="butt"/>
<text x="446.80" y="463.30" font-size="12.5" text-anchor="middle" letter-spacing="1.0">100</text>
<text x="271.60" y="285.00" font-size="15" text-anchor="start" font-weight="bold" >d</text>
<text x="325.70" y="299.60" font-size="14.5" text-anchor="start" textLength="58.5" lengthAdjust="spacing" >r = -0.741</text>
<text x="323.60" y="318.00" font-size="14.5" text-anchor="start" font-style="italic" >p</text>
<text x="335.00" y="318.00" font-size="15.5" text-anchor="start" >=</text>
<text x="347.70" y="318.00" font-size="14.8" text-anchor="start" textLength="32.5" lengthAdjust="spacing" >0.002</text>
<text x="278.50" y="376.60" font-size="16" text-anchor="middle" textLength="39" lengthAdjust="spacing" transform="rotate(-90 278.50 376.60)" >RTSS</text>
<text x="376.30" y="480.30" font-size="16" text-anchor="middle" textLength="88.5" lengthAdjust="spacing" >Inhibition of</text>
<text x="376.90" y="500.20" font-size="16" text-anchor="middle" textLength="142" lengthAdjust="spacing" >mediator release [%]</text>
<line x1="307.90" y1="375.13" x2="431.78" y2="441.04" stroke="#000" stroke-width="3" stroke-linecap="butt"/>
<polygon points="331.38,407.33 335.58,399.73 327.18,399.73" fill="none" stroke="#000" stroke-width="1.3" stroke-linejoin="miter"/>
<polygon points="409.13,420.92 413.33,413.32 404.93,413.32" fill="none" stroke="#000" stroke-width="1.3" stroke-linejoin="miter"/>
<polygon points="409.13,420.92 413.33,413.32 404.93,413.32" fill="#000" stroke="none" clip-path="url(#lh)"/>
<polygon points="420.59,448.10 424.79,440.50 416.39,440.50" fill="#000" stroke="#000" stroke-width="1.3" stroke-linejoin="miter"/>
<polygon points="325.85,399.73 330.05,407.33 321.65,407.33" fill="none" stroke="#000" stroke-width="1.3" stroke-linejoin="miter"/>
<polygon points="389.79,440.50 393.99,448.10 385.59,448.10" fill="none" stroke="#000" stroke-width="1.3" stroke-linejoin="miter"/>
<polygon points="389.79,440.50 393.99,448.10 385.59,448.10" fill="#000" stroke="none" clip-path="url(#lh)"/>
<polygon points="348.23,413.32 352.43,420.92 344.03,420.92" fill="#000" stroke="#000" stroke-width="1.3" stroke-linejoin="miter"/>
<rect x="305.30" y="331.88" width="7.40" height="7.40" fill="none" stroke="#000" stroke-width="1.3" stroke-linejoin="miter"/>
<rect x="385.68" y="427.01" width="7.40" height="7.40" fill="none" stroke="#000" stroke-width="1.3" stroke-linejoin="miter"/>
<rect x="385.68" y="427.01" width="7.40" height="7.40" fill="#000" stroke="none" clip-path="url(#lh)"/>
<rect x="388.72" y="427.01" width="7.40" height="7.40" fill="#000" stroke="#000" stroke-width="1.3" stroke-linejoin="miter"/>
<polygon points="327.23,385.54 331.63,389.94 327.23,394.34 322.83,389.94" fill="none" stroke="#000" stroke-width="1.3" stroke-linejoin="miter"/>
<polygon points="395.46,399.13 399.86,403.53 395.46,407.93 391.06,403.53" fill="none" stroke="#000" stroke-width="1.3" stroke-linejoin="miter"/>
<polygon points="395.46,399.13 399.86,403.53 395.46,407.93 391.06,403.53" fill="#000" stroke="none" clip-path="url(#lh)"/>
<polygon points="399.32,426.31 403.72,430.71 399.32,435.11 394.92,430.71" fill="#000" stroke="#000" stroke-width="1.3" stroke-linejoin="miter"/>
<circle cx="339.39" cy="362.76" r="3.6" fill="none" stroke="#000" stroke-width="1.3" stroke-linejoin="miter"/>
<circle cx="431.09" cy="417.12" r="3.6" fill="none" stroke="#000" stroke-width="1.3" stroke-linejoin="miter"/>
<circle cx="431.09" cy="417.12" r="3.6" fill="#000" stroke="none" clip-path="url(#lh)"/>
<circle cx="425.28" cy="430.71" r="3.6" fill="#000" stroke="#000" stroke-width="1.3" stroke-linejoin="miter"/>
<line x1="537.00" y1="309.00" x2="537.00" y2="446.30" stroke="#000" stroke-width="2" stroke-linecap="butt"/>
<line x1="536.00" y1="445.30" x2="673.80" y2="445.30" stroke="#000" stroke-width="2" stroke-linecap="butt"/>
<line x1="532.50" y1="445.30" x2="537.00" y2="445.30" stroke="#000" stroke-width="2" stroke-linecap="butt"/>
<text x="531.60" y="449.60" font-size="12.5" text-anchor="end" letter-spacing="1.0">0</text>
<line x1="532.50" y1="418.04" x2="537.00" y2="418.04" stroke="#000" stroke-width="2" stroke-linecap="butt"/>
<text x="531.60" y="422.34" font-size="12.5" text-anchor="end" letter-spacing="1.0">2</text>
<line x1="532.50" y1="390.78" x2="537.00" y2="390.78" stroke="#000" stroke-width="2" stroke-linecap="butt"/>
<text x="531.60" y="395.08" font-size="12.5" text-anchor="end" letter-spacing="1.0">4</text>
<line x1="532.50" y1="363.52" x2="537.00" y2="363.52" stroke="#000" stroke-width="2" stroke-linecap="butt"/>
<text x="531.60" y="367.82" font-size="12.5" text-anchor="end" letter-spacing="1.0">6</text>
<line x1="532.50" y1="336.26" x2="537.00" y2="336.26" stroke="#000" stroke-width="2" stroke-linecap="butt"/>
<text x="531.60" y="340.56" font-size="12.5" text-anchor="end" letter-spacing="1.0">8</text>
<line x1="532.50" y1="309.00" x2="537.00" y2="309.00" stroke="#000" stroke-width="2" stroke-linecap="butt"/>
<text x="531.60" y="313.30" font-size="12.5" text-anchor="end" letter-spacing="1.0">10</text>
<line x1="537.00" y1="445.30" x2="537.00" y2="449.90" stroke="#000" stroke-width="2" stroke-linecap="butt"/>
<text x="537.80" y="464.30" font-size="12.5" text-anchor="middle" letter-spacing="1.0">0</text>
<line x1="564.36" y1="445.30" x2="564.36" y2="449.90" stroke="#000" stroke-width="2" stroke-linecap="butt"/>
<text x="565.16" y="464.30" font-size="12.5" text-anchor="middle" letter-spacing="1.0">20</text>
<line x1="591.72" y1="445.30" x2="591.72" y2="449.90" stroke="#000" stroke-width="2" stroke-linecap="butt"/>
<text x="592.52" y="464.30" font-size="12.5" text-anchor="middle" letter-spacing="1.0">40</text>
<line x1="619.08" y1="445.30" x2="619.08" y2="449.90" stroke="#000" stroke-width="2" stroke-linecap="butt"/>
<text x="619.88" y="464.30" font-size="12.5" text-anchor="middle" letter-spacing="1.0">60</text>
<line x1="646.44" y1="445.30" x2="646.44" y2="449.90" stroke="#000" stroke-width="2" stroke-linecap="butt"/>
<text x="647.24" y="464.30" font-size="12.5" text-anchor="middle" letter-spacing="1.0">80</text>
<line x1="673.80" y1="445.30" x2="673.80" y2="449.90" stroke="#000" stroke-width="2" stroke-linecap="butt"/>
<text x="674.60" y="464.30" font-size="12.5" text-anchor="middle" letter-spacing="1.0">100</text>
<text x="499.00" y="285.50" font-size="15" text-anchor="start" font-weight="bold" >f</text>
<text x="554.20" y="300.40" font-size="14.5" text-anchor="start" textLength="58.5" lengthAdjust="spacing" >r = -0.351</text>
<text x="552.40" y="318.80" font-size="14.5" text-anchor="start" font-style="italic" >p</text>
<text x="562.70" y="318.80" font-size="15.5" text-anchor="start" >=</text>
<text x="575.70" y="318.80" font-size="14.8" text-anchor="start" textLength="34.200000000000045" lengthAdjust="spacing" >0.200</text>
<text x="508.20" y="377.90" font-size="16" text-anchor="middle" textLength="39" lengthAdjust="spacing" transform="rotate(-90 508.20 377.90)" >RTSS</text>
<text x="606.60" y="485.00" font-size="16" text-anchor="middle" textLength="89" lengthAdjust="spacing" >Inhibition of</text>
<text x="606.90" y="503.30" font-size="16" text-anchor="middle" textLength="142" lengthAdjust="spacing" >mediator release [%]</text>
<line x1="537.00" y1="391.05" x2="630.43" y2="426.22" stroke="#000" stroke-width="3" stroke-linecap="butt"/>
<polygon points="537.55,408.21 541.75,400.61 533.35,400.61" fill="none" stroke="#000" stroke-width="1.3" stroke-linejoin="miter"/>
<polygon points="576.95,421.84 581.15,414.24 572.75,414.24" fill="none" stroke="#000" stroke-width="1.3" stroke-linejoin="miter"/>
<polygon points="576.95,421.84 581.15,414.24 572.75,414.24" fill="#000" stroke="none" clip-path="url(#lh)"/>
<polygon points="603.48,449.10 607.68,441.50 599.28,441.50" fill="#000" stroke="#000" stroke-width="1.3" stroke-linejoin="miter"/>
<polygon points="537.00,400.61 541.20,408.21 532.80,408.21" fill="none" stroke="#000" stroke-width="1.3" stroke-linejoin="miter"/>
<polygon points="596.37,441.50 600.57,449.10 592.17,449.10" fill="none" stroke="#000" stroke-width="1.3" stroke-linejoin="miter"/>
<polygon points="596.37,441.50 600.57,449.10 592.17,449.10" fill="#000" stroke="none" clip-path="url(#lh)"/>
<polygon points="590.63,414.24 594.83,421.84 586.43,421.84" fill="#000" stroke="#000" stroke-width="1.3" stroke-linejoin="miter"/>
<rect x="571.47" y="332.56" width="7.40" height="7.40" fill="none" stroke="#000" stroke-width="1.3" stroke-linejoin="miter"/>
<rect x="607.04" y="427.97" width="7.40" height="7.40" fill="none" stroke="#000" stroke-width="1.3" stroke-linejoin="miter"/>
<rect x="607.04" y="427.97" width="7.40" height="7.40" fill="#000" stroke="none" clip-path="url(#lh)"/>
<rect x="595.68" y="427.97" width="7.40" height="7.40" fill="#000" stroke="#000" stroke-width="1.3" stroke-linejoin="miter"/>
<polygon points="586.80,386.38 591.20,390.78 586.80,395.18 582.40,390.78" fill="none" stroke="#000" stroke-width="1.3" stroke-linejoin="miter"/>
<polygon points="607.73,400.01 612.13,404.41 607.73,408.81 603.33,404.41" fill="none" stroke="#000" stroke-width="1.3" stroke-linejoin="miter"/>
<polygon points="607.73,400.01 612.13,404.41 607.73,408.81 603.33,404.41" fill="#000" stroke="none" clip-path="url(#lh)"/>
<polygon points="601.30,427.27 605.70,431.67 601.30,436.07 596.90,431.67" fill="#000" stroke="#000" stroke-width="1.3" stroke-linejoin="miter"/>
<circle cx="595.00" cy="363.52" r="3.6" fill="none" stroke="#000" stroke-width="1.3" stroke-linejoin="miter"/>
<circle cx="630.43" cy="418.04" r="3.6" fill="none" stroke="#000" stroke-width="1.3" stroke-linejoin="miter"/>
<circle cx="630.43" cy="418.04" r="3.6" fill="#000" stroke="none" clip-path="url(#lh)"/>
<circle cx="627.29" cy="431.67" r="3.6" fill="#000" stroke="#000" stroke-width="1.3" stroke-linejoin="miter"/>
<text x="144.80" y="539.6" font-size="16" textLength="112.10" lengthAdjust="spacing">AIT patients (P1</text>
<circle cx="261.9" cy="535.1" r="3.6" fill="none" stroke="#000" stroke-width="1.6"/>
<text x="268.10" y="539.6" font-size="16" textLength="27.10" lengthAdjust="spacing">; P2</text>
<rect x="300.4" y="531.7" width="7.2" height="6.8" fill="none" stroke="#000" stroke-width="1.7"/>
<text x="311.90" y="539.6" font-size="16" textLength="4.40" lengthAdjust="spacing">;</text>
<text x="321.10" y="539.6" font-size="16" textLength="17.00" lengthAdjust="spacing" fill="#c4292e">P3</text>
<polygon points="345.4,531.0 349.9,538.7 340.9,538.7" fill="none" stroke="#c4292e" stroke-width="1.7"/>
<text x="351.30" y="539.6" font-size="16" textLength="25.90" lengthAdjust="spacing">; P4</text>
<polygon points="384.3,538.7 388.9,531.4 379.7,531.4" fill="none" stroke="#000" stroke-width="1.7"/>
<text x="390.40" y="539.6" font-size="16" textLength="26.20" lengthAdjust="spacing">; P5</text>
<polygon points="424.4,530.9 428.7,534.9 424.4,538.9 420.1,534.9" fill="none" stroke="#000" stroke-width="1.6"/>
<text x="430.00" y="539.6" font-size="16" textLength="102.40" lengthAdjust="spacing">); controls (NA</text>
<line x1="533.40" y1="533.70" x2="543.00" y2="533.70" stroke="#000" stroke-width="1.6" stroke-linecap="butt"/>
<line x1="538.20" y1="528.90" x2="538.20" y2="538.50" stroke="#000" stroke-width="1.6" stroke-linecap="butt"/>
<text x="544.70" y="539.6" font-size="16" textLength="44.70" lengthAdjust="spacing">; NBA</text>
<line x1="591.60" y1="531.00" x2="599.60" y2="539.00" stroke="#000" stroke-width="1.5" stroke-linecap="butt"/>
<line x1="591.60" y1="539.00" x2="599.60" y2="531.00" stroke="#000" stroke-width="1.5" stroke-linecap="butt"/>
<text x="601.70" y="539.6" font-size="16" textLength="5.60" lengthAdjust="spacing">)</text>
</svg>
</body></html>
